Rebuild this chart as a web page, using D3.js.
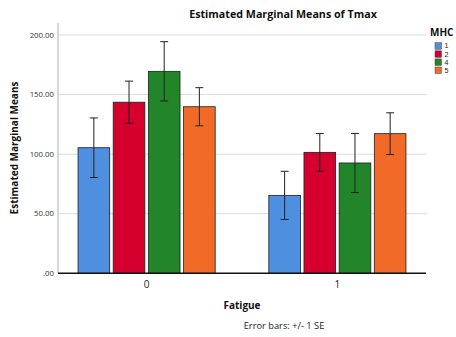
<!DOCTYPE html>
<html><head><meta charset="utf-8">
<script src="https://cdn.jsdelivr.net/npm/d3@7"></script>
<style>body{margin:0;background:#fff}svg{display:block}</style>
</head><body><svg id="c" width="456" height="337"></svg>
<script>
const groups = ["0", "1"];
const series = ["1", "2", "4", "5"];
const means = {
  "1": [105.4, 65.4],
  "2": [143.6, 101.5],
  "4": [169.5, 92.6],
  "5": [139.8, 117.2]
};
const se = {
  "1": [25.0, 20.2],
  "2": [17.7, 15.8],
  "4": [24.9, 24.8],
  "5": [16.0, 17.5]
};
const colors = ["#4f8fe0", "#d6002f", "#23852a", "#f16a28"];
const yTicks = [0, 50, 100, 150, 200];
const yTickLabels = [".00", "50.00", "100.00", "150.00", "200.00"];

const svg = d3.select("#c");
const font = "'Open Sans', 'DejaVu Sans', sans-serif";
const L = 58, R = 426, T = 23, B = 273.3;

const y = d3.scaleLinear().domain([0, 200]).range([B, 35]);
const x0 = d3.scaleBand().domain(groups).range([L, R]).paddingInner(0.281).paddingOuter(0.105);
const x1 = d3.scaleBand().domain(series).range([0, x0.bandwidth()]).paddingInner(0.1).paddingOuter(0);
const color = d3.scaleOrdinal().domain(series).range(colors);

// gridlines
svg.append("g").selectAll("line").data(yTicks.slice(1)).join("line")
  .attr("x1", L).attr("x2", R + 1).attr("y1", d => y(d)).attr("y2", d => y(d))
  .attr("stroke", "#dcdcdc").attr("stroke-width", 1);

// y axis line
svg.append("line").attr("x1", L).attr("x2", L).attr("y1", T).attr("y2", B)
  .attr("stroke", "#bdbdbd").attr("stroke-width", 1.2);

// y tick labels
svg.append("g").selectAll("text").data(yTicks).join("text")
  .attr("x", 54).attr("y", d => y(d)).attr("dy", "0.35em")
  .attr("text-anchor", "end").attr("font-family", font).attr("font-size", 7.8)
  .attr("fill", "#333").text((d, i) => yTickLabels[i]);

// bars
const data = [];
groups.forEach((g, gi) => series.forEach(s => data.push({g, s, v: means[s][gi], e: se[s][gi]})));

svg.append("g").selectAll("rect").data(data).join("rect")
  .attr("x", d => x0(d.g) + x1(d.s)).attr("width", x1.bandwidth())
  .attr("y", d => y(d.v)).attr("height", d => B - y(d.v))
  .attr("fill", d => color(d.s)).attr("stroke", "#1e1e1e").attr("stroke-width", 0.8);

// error bars
const eb = svg.append("g").attr("stroke", "#222").attr("stroke-width", 1);
data.forEach(d => {
  const cx = x0(d.g) + x1(d.s) + x1.bandwidth() / 2;
  eb.append("line").attr("x1", cx).attr("x2", cx).attr("y1", y(d.v + d.e)).attr("y2", y(d.v - d.e));
  [d.v + d.e, d.v - d.e].forEach(v => eb.append("line")
    .attr("x1", cx - 4).attr("x2", cx + 4).attr("y1", y(v)).attr("y2", y(v)));
});

// baseline
svg.append("line").attr("x1", L).attr("x2", R).attr("y1", B).attr("y2", B)
  .attr("stroke", "#111").attr("stroke-width", 1.6);

// x tick labels
svg.append("g").selectAll("text").data(groups).join("text")
  .attr("x", d => x0(d) + x0.bandwidth() / 2).attr("y", 288)
  .attr("text-anchor", "middle").attr("font-family", font).attr("font-size", 10)
  .attr("fill", "#222").text(d => d);

// axis titles
svg.append("text").attr("x", 242).attr("y", 309).attr("text-anchor", "middle")
  .attr("font-family", font).attr("font-size", 10).attr("font-weight", "bold").attr("fill", "#111").text("Fatigue");
svg.append("text").attr("transform", "translate(18,148) rotate(-90)").attr("text-anchor", "middle")
  .attr("font-family", font).attr("font-size", 10).attr("font-weight", "bold").attr("fill", "#111").text("Estimated Marginal Means");
svg.append("text").attr("x", 284).attr("y", 329).attr("text-anchor", "middle")
  .attr("font-family", font).attr("font-size", 9.3).attr("fill", "#222").text("Error bars: +/- 1 SE");

// title
svg.append("text").attr("x", 283).attr("y", 18).attr("text-anchor", "middle")
  .attr("font-family", font).attr("font-size", 10.7).attr("font-weight", "bold").attr("fill", "#111").text("Estimated Marginal Means of Tmax");

// legend
svg.append("text").attr("x", 430).attr("y", 36).attr("font-family", font).attr("font-size", 10)
  .attr("font-weight", "bold").attr("fill", "#111").text("MHC");
const ly = (i) => 42.7 + i * 8.1;
svg.append("g").selectAll("rect").data(series).join("rect")
  .attr("x", 435).attr("y", (d, i) => ly(i)).attr("width", 6.5).attr("height", 6.5)
  .attr("fill", d => color(d)).attr("stroke", "#444").attr("stroke-width", 0.5);
svg.append("g").selectAll("text").data(series).join("text")
  .attr("font-family", "'Liberation Sans', Arial, sans-serif").attr("font-size", 7.1).attr("fill", "#222")
  .attr("x", 444.5).attr("y", (d, i) => ly(i) + 3.3).attr("dy", "0.35em").text(d => d);
</script></body></html>
